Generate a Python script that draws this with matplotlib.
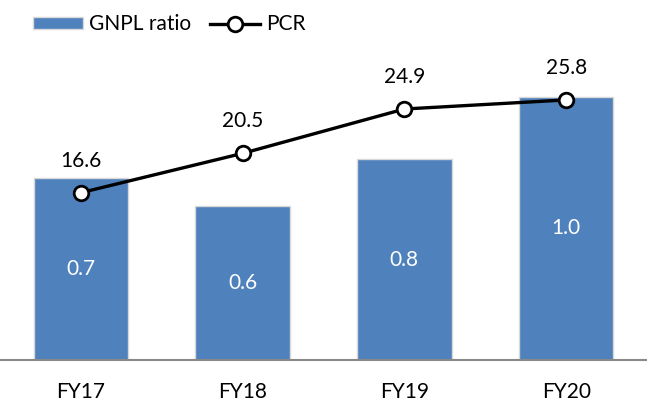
import matplotlib.pyplot as plt

plt.rcParams['font.family'] = ['Lato', 'DejaVu Sans']

# data
years = ['FY17', 'FY18', 'FY19', 'FY20']
gnpl = [0.70, 0.59, 0.77, 1.01]
gnpl_labels = ['0.7', '0.6', '0.8', '1.0']
pcr = [16.6, 20.5, 24.9, 25.8]

bar_color = '#4F81BD'

fig = plt.figure(figsize=(6.47, 4.01), dpi=100)
ax = fig.add_axes([0, 1 - 360 / 401, 1, 320 / 401])
x = range(len(years))

bars = ax.bar(x, gnpl, width=0.585, color=bar_color, edgecolor='#d8d8d8',
              linewidth=1.0, label='GNPL ratio', zorder=2)
for xi, v, lab in zip(x, gnpl, gnpl_labels):
    ax.text(xi, v / 2, lab, ha='center', va='center', color='white', fontsize=15)

ax.set_xlim(-0.5, 3.5)
ax.set_ylim(0, 320 / 260.4)
ax.set_yticks([])
ax.set_xticks(list(x))
ax.set_xticklabels(years, fontsize=15)
ax.tick_params(axis='x', length=0, pad=16)
for s in ['top', 'left', 'right']:
    ax.spines[s].set_visible(False)
ax.spines['bottom'].set_color('#888888')
ax.spines['bottom'].set_linewidth(1.5)

ax2 = ax.twinx()
line, = ax2.plot(x, pcr, color='black', linewidth=2.4, marker='o', markersize=10.5,
                 markerfacecolor='white', markeredgecolor='black', markeredgewidth=2,
                 label='PCR', zorder=3)
for xi, v in zip(x, pcr):
    ax2.annotate(f'{v:.1f}', (xi, v), xytext=(0, 23), textcoords='offset points',
                 ha='center', va='center', fontsize=15)
ax2.set_ylim(0, 320 / 10.08)
ax2.set_yticks([])
for s in ['top', 'left', 'right', 'bottom']:
    ax2.spines[s].set_visible(False)

fig.legend([bars, line], ['GNPL ratio', 'PCR'], loc='upper left',
           bbox_to_anchor=(0.035, 0.99), ncol=2, frameon=False, fontsize=15,
           handlelength=2.4, handleheight=0.5, handletextpad=0.3, columnspacing=0.9,
           borderaxespad=0.1)

fig.savefig('out.png', dpi=100)
